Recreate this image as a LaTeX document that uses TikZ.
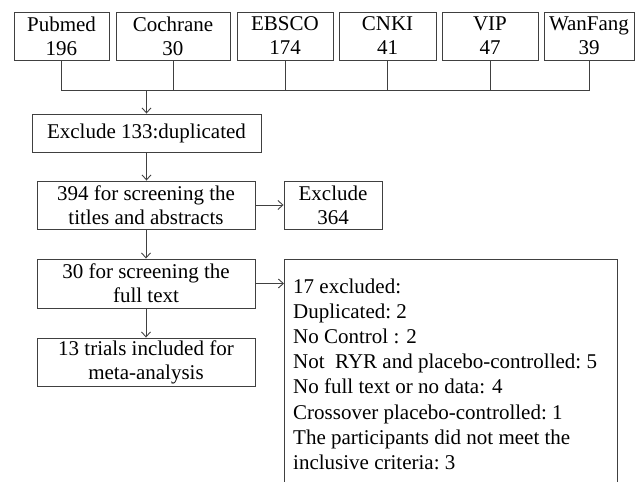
\documentclass[tikz,border=0pt]{standalone}
\usepackage{fontspec}
\setmainfont{Liberation Serif}
\usetikzlibrary{arrows.meta,calc}
\begin{document}
\begin{tikzpicture}[x=1pt,y=-1pt,
  box/.style={draw=black!75, line width=0.9pt, inner sep=0pt, align=center, font=\fontsize{21}{24}\selectfont},
  conn/.style={draw=black!75, line width=0.9pt},
  arr/.style={conn, -{Straight Barb[length=5pt,width=9pt]}}]
\useasboundingbox (0,0) rectangle (641,482);
% sources
\node[box, minimum width=95pt, minimum height=48pt] (pub) at (61.5,36) {Pubmed\\196};
\node[box, minimum width=114pt, minimum height=48pt] (coc) at (173,36) {Cochrane\\30};
\node[box, minimum width=96pt, minimum height=48pt] (ebs) at (285,36) {EBSCO\\174};
\node[box, minimum width=97pt, minimum height=48pt] (cnk) at (387.5,36) {CNKI\\41};
\node[box, minimum width=96pt, minimum height=48pt] (vip) at (490,36) {VIP\\47};
\node[box, minimum width=90pt, minimum height=48pt] (wan) at (589,36) {WanFang\\39};
\coordinate (bus) at (0,90);
% flow boxes
\node[box, minimum width=229pt, minimum height=38pt] (exc) at (146.5,133) {Exclude 133:duplicated};
\node[box, minimum width=218pt, minimum height=48pt] (s1) at (146,205) {394 for screening the\\titles and abstracts};
\node[box, minimum width=98pt, minimum height=48pt] (ex2) at (333,205) {Exclude\\364};
\node[box, minimum width=218pt, minimum height=49pt] (s2) at (146,283.5) {30 for screening the\\full text};
\node[box, minimum width=218pt, minimum height=48pt] (s3) at (146,362) {13 trials included for\\meta-analysis};
\node[draw=black!75, line width=0.9pt, inner sep=0pt, minimum width=333pt, minimum height=240pt, anchor=north west] (big) at (284,259) {};
\node[anchor=north west, align=left, inner sep=0pt, font=\fontsize{21}{25.2}\selectfont] (bigtext) at (293,278.3)
 {17 excluded:\\
  Duplicated:\ 2\\
  No Control : 2\\
  Not\ \ RYR and placebo-controlled:\ 5\\
  No full text or no data: 4\\
  Crossover placebo-controlled:\ 1\\
  The participants did not meet the\\
  inclusive\ criteria:\ 3};
% connectors
\draw[conn] (pub.south) -- (pub.south |- bus) -- (wan.south |- bus) -- (wan.south);
\foreach \n in {coc,ebs,cnk,vip} \draw[conn] (\n.south) -- (\n.south |- bus);
\draw[arr] (exc.north |- bus) -- (exc.north);
\draw[arr] (exc.south) -- (exc.south |- s1.north);
\draw[arr] (s1.east) -- (ex2.west);
\draw[arr] (s1.south) -- (s2.north);
\draw[arr] (s2.east) -- (s2.east -| big.west);
\draw[arr] (s2.south) -- (s3.north);
\end{tikzpicture}
\end{document}
